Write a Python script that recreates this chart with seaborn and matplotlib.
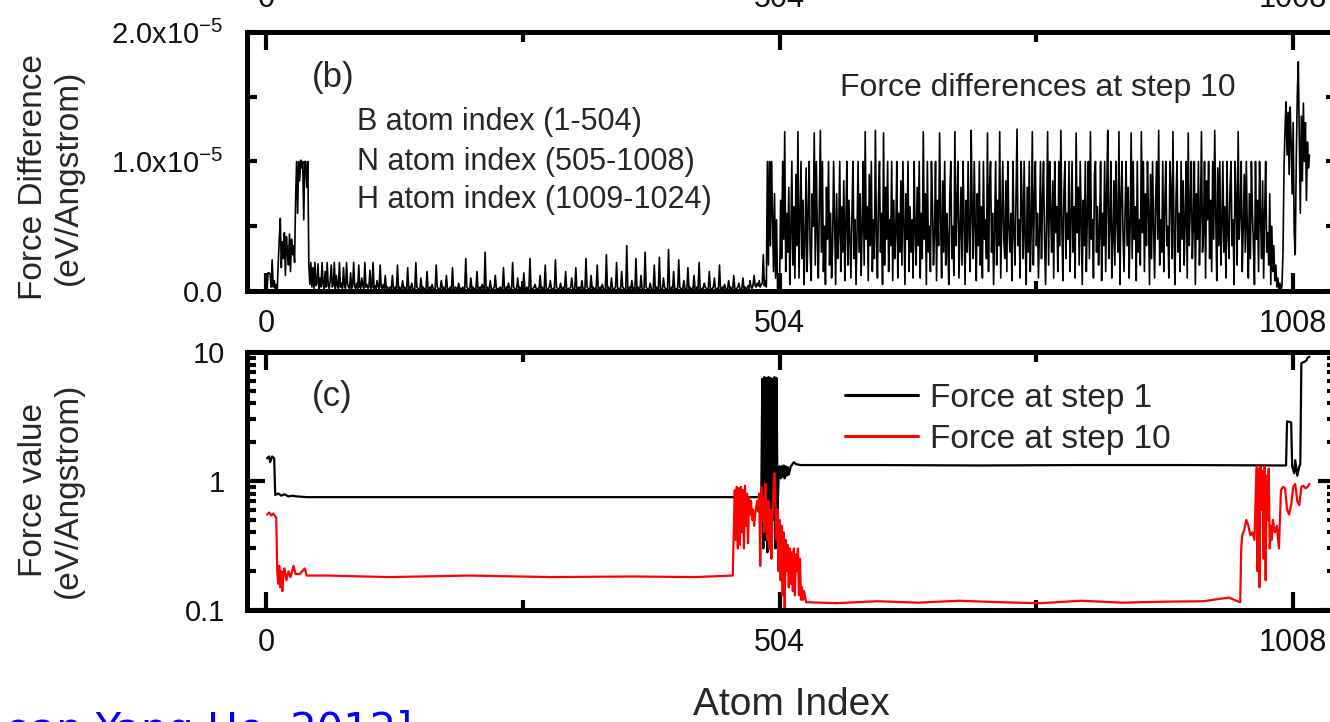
"""
Force difference / force value per atom (BN-H cluster), two stacked panels.
"""

import numpy as np
import matplotlib
matplotlib.use("Agg")
import matplotlib.pyplot as plt
import seaborn as sns
from matplotlib.ticker import FixedLocator, FuncFormatter, LogLocator, NullFormatter

# ---- panel (b): force difference at step 10, units of 1e-7 eV/Angstrom ----
diff_b_head_start = 1
diff_b_head = [
    2, 14, 14, 13, 3, 24, 3, 8, 2, 5, 1,
    22, 40, 56, 18, 38, 25, 45, 12, 42, 30, 20, 44, 15, 40, 28, 35, 22,
    70, 100, 60, 100, 85, 101, 95, 100, 55, 100, 100, 80, 100,
]

diff_b_tail_start = 42
diff_b_tail = [
    20, 5, 22, 3, 18, 2, 22, 4, 6, 21, 2, 10, 3, 22, 5, 2, 15, 3, 22, 4, 2, 8, 20, 3, 5, 22, 2, 12, 4, 2,
    22, 3, 6, 2, 18, 4, 2, 22, 5, 3, 2, 14, 2, 4, 22, 3, 2, 6, 2, 20, 3, 2, 10, 4, 2, 22, 3, 5, 2, 3,
    16, 2, 3, 22, 2, 4, 2, 8, 3, 2, 20, 3, 2, 5, 2, 12, 2, 3, 2,
    2, 3, 2, 12, 2, 1, 3, 2, 20, 2, 3, 1, 2, 8, 2, 3, 2, 1, 18, 2, 3, 2, 6, 2, 1, 2, 22, 3, 2, 1, 2, 10, 2, 3, 2, 1, 2,
    15, 2, 1, 3, 2, 5, 2, 1, 2, 20, 3, 2, 1, 2, 8, 2, 3, 1, 2, 12, 2, 1, 2, 3, 2, 18, 1, 2, 3, 2, 1, 6, 2, 2, 1, 3, 2,
    2, 25, 3, 2, 1, 2, 10, 2, 3, 1, 2, 2, 15, 2, 1, 3, 2, 5, 2, 1, 30, 2, 3, 1, 2, 8, 2, 1, 2, 3, 12, 2, 1, 2, 2, 3, 1,
    2, 18, 2, 1, 3, 2, 6, 2, 1, 2, 22, 3, 2, 1, 2, 10, 2, 3, 1, 2, 2, 14, 2, 1, 3, 2, 2, 25, 2, 1, 2, 3, 5, 2, 1, 2, 2,
    12, 2, 3, 1, 2, 20, 2, 1, 2, 3, 8, 2, 1, 2, 2, 24, 3, 2, 1, 2, 6, 2, 1, 3, 2, 15, 2, 1, 2, 2, 3, 10, 2, 1, 2, 18, 2,
    1, 3, 2, 2, 8, 2, 1, 2, 25, 3, 2, 1, 2, 12, 2, 3, 1, 2, 2, 20, 2, 1, 3, 2, 5, 2, 1, 2, 28, 2, 3, 1, 2, 10, 2, 1, 2,
    3, 22, 2, 1, 2, 2, 15, 3, 2, 1, 2, 35, 2, 1, 3, 2, 8, 2, 2, 1, 25, 2, 3, 1, 2, 12, 2, 1, 2, 30, 3, 2, 1, 2, 6, 2, 1,
    2, 20, 2, 3, 1, 2, 26, 2, 1, 2, 10, 3, 2, 1, 2, 32, 2, 1, 3, 2, 15, 2, 1, 2, 2, 24, 3, 2, 1, 2, 8, 2, 1, 2, 18, 2, 3,
    1, 2, 2, 12, 2, 1, 3, 2, 22, 2, 1, 2, 2, 6, 3, 2, 1, 2, 15, 2, 1, 2, 3, 10, 2, 1, 2, 2, 20, 2, 1, 3, 2, 5, 2, 1, 2,
    8, 2, 3, 1, 2, 12, 2, 1, 2, 3, 6, 2, 1, 2, 10, 2, 3, 1, 2, 4, 2, 8, 3, 2, 5, 12, 4, 3, 6, 4, 8, 3, 5, 6, 28, 4, 8,
]

diff_n_start = 491
diff_n = [
    3, 100, 20, 100, 35, 100, 60, 15, 75, 10, 55, 2, 8, 4, 70, 25, 100, 40, 123, 15, 60, 30, 80, 5, 45, 100, 20, 65, 10, 90,
    35, 123, 10, 55, 100, 25, 70, 5, 40, 95, 15, 60, 100, 30, 8, 75, 50, 122, 20, 100, 45, 10, 65, 124, 30, 100, 15, 50, 5, 80,
    40, 100, 20, 60, 10, 35, 100, 55, 5, 75, 25, 45, 100, 15, 65, 30, 85, 8, 50, 100, 20, 70, 40, 10, 60, 100, 25, 55, 5, 45,
    100, 30, 75, 12, 50, 100, 20, 123, 40, 65, 8, 90, 35, 100, 15, 55, 25, 124, 45, 10, 70, 100, 30, 60, 5, 122, 20, 80, 40, 100,
    15, 55, 35, 100, 8, 70, 25, 45, 100, 10, 60, 30, 85, 20, 100, 50, 5, 75, 40, 100, 15, 65, 30, 55, 10, 100, 45, 20, 80, 35,
    100, 10, 60, 25, 123, 40, 75, 5, 100, 30, 50, 15, 100, 65, 20, 45, 100, 8, 70, 35, 122, 55, 10, 85, 30, 100, 20, 60, 40, 5,
    75, 100, 25, 50, 12, 123, 35, 65, 100, 10, 45, 80, 20, 100, 55, 5, 70, 30, 100, 40, 15, 124, 60, 25, 100, 50, 8, 75, 35, 100,
    20, 65, 10, 100, 40, 55, 25, 122, 15, 80, 100, 30, 60, 5, 45, 100, 20, 70, 35, 123, 10, 55, 100, 40, 25, 85, 15, 100, 50, 30,
    60, 8, 100, 45, 20, 75, 125, 35, 55, 10, 100, 65, 25, 100, 40, 5, 80, 30, 100, 15, 50, 123, 20, 70, 100, 35, 60, 10, 45, 100,
    25, 70, 100, 40, 5, 55, 123, 20, 100, 60, 30, 85, 10, 100, 45, 65, 15, 100, 35, 124, 50, 8, 75, 100, 25, 60, 40, 100, 15, 55,
    100, 30, 65, 10, 122, 45, 80, 20, 100, 50, 5, 70, 35, 100, 15, 60, 100, 25, 123, 40, 55, 10, 90, 100, 30, 65, 20, 45, 100, 8,
    60, 35, 100, 15, 75, 124, 25, 50, 100, 10, 40, 85, 20, 100, 55, 30, 123, 5, 70, 100, 45, 15, 60, 100, 35, 80, 10, 50, 122, 25,
    100, 40, 65, 8, 100, 30, 55, 20, 123, 45, 100, 15, 75, 35, 100, 60, 5, 90, 25, 100, 50, 10, 70, 100, 40, 124, 20, 55, 30, 100,
    15, 65, 100, 35, 50, 10, 100, 80, 25, 123, 45, 5, 70, 100, 30, 60, 15, 100, 40, 85, 20, 55, 100, 10, 122, 35, 65, 100, 25, 50,
    100, 5, 75, 40, 100, 20, 60, 123, 30, 45, 100, 10, 85, 55, 100, 25, 70, 15, 100, 40, 124, 60, 8, 95, 35, 100, 20, 50, 100, 30,
    65, 10, 100, 45, 25, 80, 100, 35, 55, 5, 100, 70, 20, 123, 40, 60, 100, 15, 50, 90, 30, 100, 45, 10, 75, 25, 100, 60, 35, 5,
    100, 40, 70, 15, 100, 55, 25, 85, 10, 60, 100, 30, 45, 20, 75, 5, 50, 15, 35, 8, 20, 3, 10, 2, 6, 1, 4,
]

diff_h_start = 998
diff_h = [30, 95, 125, 146, 105, 138, 90, 142, 115, 75, 130, 45, 28, 100, 150, 177,
          120, 60, 135, 85, 145, 100, 130, 70, 115, 95, 105]

# ---- panel (c): force values (eV/Angstrom), atom index -> value ----
step1_atom = [1, 3, 4, 6, 8, 9, 12, 15, 18, 22, 26, 30, 40, 120, 250, 380, 485,
              486, 487, 488, 489, 490, 491, 492, 493, 494, 495, 496, 497, 498, 499, 500, 501, 502,
              503, 504, 505, 506, 507, 508, 509, 510, 511, 512, 513, 515, 518, 520, 525,
              600, 700, 800, 900, 1001, 1002, 1006, 1007, 1009, 1010, 1012, 1014, 1015,
              1016, 1019, 1021, 1022, 1024]
step1_force = [1.5, 1.55, 1.4, 1.55, 1.5, 0.78, 0.8, 0.77, 0.79, 0.76, 0.77, 0.76, 0.75, 0.75, 0.75, 0.75, 0.75,
               0.7, 6.2, 0.3, 6.4, 0.35, 6.3, 0.28, 6.4, 0.4, 6.3, 0.3, 6.2, 0.5, 6.4, 0.3, 6.3, 0.6,
               1.05, 1.3, 1.05, 1.3, 1.08, 1.32, 1.05, 1.3, 1.1, 1.28, 1.12, 1.3, 1.4, 1.35, 1.33,
               1.33, 1.32, 1.33, 1.33, 1.32, 2.9, 2.85, 1.3, 1.15, 1.45, 1.1, 1.3, 1.35,
               8.2, 8.4, 8.6, 9.0, 9.2]

step10_atom = [1, 3, 5, 7, 10, 11, 12, 13, 14, 15, 16, 17, 18, 20, 22, 24, 27, 29, 33, 38, 40, 60,
               120, 200, 280, 360, 420, 458,
               460, 461, 462, 463, 464, 465, 466, 467, 468, 469, 470, 471, 472, 473, 474, 475, 476, 477,
               478, 479, 480, 481, 482, 483, 484, 485, 486, 487, 488, 489, 490, 491, 492, 493, 494, 495,
               496, 497, 498, 499, 500, 501, 502, 503, 504, 505, 506, 507, 508, 509, 510, 511, 512, 513,
               514, 515, 516, 517, 518, 519, 520, 521, 522, 523, 524, 525, 526, 527, 528, 530,
               560, 600, 640, 680, 720, 760, 800, 840, 880, 920, 945, 952, 956,
               957, 958, 960, 962, 964, 966, 968, 970, 972, 973, 974, 975, 976, 977, 978, 979, 980,
               981, 982, 983, 984, 985, 986, 987, 988, 990, 992, 994, 996, 998, 1000, 1002, 1004,
               1006, 1008, 1010, 1012, 1014, 1016, 1018, 1020, 1022, 1024]
step10_force = [0.55, 0.57, 0.54, 0.56, 0.52, 0.2, 0.16, 0.22, 0.15, 0.2, 0.14, 0.19, 0.21, 0.17, 0.2, 0.18, 0.22, 0.19, 0.19, 0.21, 0.185, 0.185,
                0.18, 0.185, 0.18, 0.182, 0.18, 0.185,
                0.85, 0.35, 0.9, 0.3, 0.88, 0.32, 0.9, 0.4, 0.85, 0.3, 0.92, 0.45, 0.8, 0.33, 0.75, 0.55, 0.7, 0.5,
                0.6, 0.45, 0.55, 0.62, 0.7, 0.58, 0.8, 0.22, 0.9, 0.5, 0.75, 0.4, 0.95, 0.55, 0.35, 0.7, 0.3, 0.6,
                0.25, 0.5, 0.85, 1.15, 0.7, 0.35, 0.6, 0.2, 0.5, 0.17, 0.45, 0.13, 0.4, 0.1, 0.35, 0.2, 0.32, 0.15,
                0.3, 0.16, 0.28, 0.14, 0.3, 0.13, 0.27, 0.2, 0.3, 0.13, 0.25, 0.12, 0.15, 0.12, 0.14, 0.115,
                0.113, 0.117, 0.114, 0.118, 0.115, 0.113, 0.118, 0.114, 0.116, 0.117, 0.125, 0.118, 0.115,
                0.3, 0.38, 0.42, 0.5, 0.45, 0.38, 0.4, 0.35, 1.3, 0.2, 1.25, 0.15, 1.3, 0.6, 1.2, 0.25, 1.3,
                0.17, 1.1, 0.5, 1.25, 0.3, 0.45, 0.35, 0.5, 0.4, 0.45, 0.3, 0.85, 0.9, 0.88, 0.6, 0.55,
                0.65, 0.9, 0.95, 0.7, 0.65, 0.9, 0.92, 0.88, 0.9, 0.95]

x_ticks = [0, 504, 1008]
x_minor = [252, 756]

# ---- styling ----
sns.set_style("ticks")
plt.rcParams["font.family"] = ["Liberation Sans", "DejaVu Sans"]
plt.rcParams["mathtext.fontset"] = "custom"
plt.rcParams["mathtext.rm"] = "Liberation Sans"
plt.rcParams["mathtext.default"] = "regular"
plt.rcParams["axes.unicode_minus"] = False


def style_axes(ax, y_major_len, y_minor_len, y_pad):
    for spine in ax.spines.values():
        spine.set_visible(True)
        spine.set_linewidth(3.6)
        spine.set_color("black")
    ax.tick_params(which="both", direction="in", top=True, right=True,
                   width=3, color="black", labelcolor="#111111")
    ax.tick_params(axis="x", which="major", length=13, labelsize=22, pad=13)
    ax.tick_params(axis="x", which="minor", length=7)
    ax.tick_params(axis="y", which="major", length=y_major_len, labelsize=21, pad=y_pad)
    ax.tick_params(axis="y", which="minor", length=y_minor_len)
    ax.xaxis.set_major_locator(FixedLocator(x_ticks))
    ax.xaxis.set_minor_locator(FixedLocator(x_minor))
    ax.set_xlim(-18.7, 1050)


fig = plt.figure(figsize=(13.3, 7.22), dpi=100)
ax1 = fig.add_axes([0.1857, 0.597, 0.8188, 0.3587])
ax2 = fig.add_axes([0.1857, 0.1551, 0.8188, 0.3573])

# panel (b)
x_diff = np.concatenate([
    diff_b_head_start + np.arange(len(diff_b_head)),
    diff_b_tail_start + np.arange(len(diff_b_tail)),
    diff_n_start + np.arange(len(diff_n)),
    diff_h_start + np.arange(len(diff_h)),
])
y_diff = np.concatenate([diff_b_head, diff_b_tail, diff_n, diff_h]) * 1e-7
sns.lineplot(x=x_diff, y=y_diff, ax=ax1, color="black", lw=1.2,
             estimator=None, sort=False)

style_axes(ax1, 7, 7, 17)
ax1.set_ylim(0, 2e-5)
ax1.yaxis.set_major_locator(FixedLocator([0, 1e-5, 2e-5]))
ax1.yaxis.set_minor_locator(FixedLocator([0.5e-5, 1.5e-5]))
ax1.yaxis.set_major_formatter(FuncFormatter(
    lambda v, p: "0.0" if v == 0 else "%.1fx10$^{-5}$" % (v / 1e-5)))
ax1.tick_params(axis="x", labeltop=True, labelbottom=True)
ax1.set_xlabel("")
ax1.set_ylabel("Force Difference\n(eV/Angstrom)", fontsize=24,
               linespacing=1.2, va="center")
ax1.yaxis.set_label_coords(-0.18, 0.44)

ax1.text(0.079, 0.826, "(b)", transform=ax1.transAxes, fontsize=25,
         ha="center", va="center")
for label, ypos in [("B atom index (1-504)", 0.652),
                    ("N atom index (505-1008)", 0.498),
                    ("H atom index (1009-1024)", 0.351)]:
    ax1.text(0.101, ypos, label, transform=ax1.transAxes, fontsize=22,
             ha="left", va="center")
ax1.text(0.5445, 0.784, "Force differences at step 10", transform=ax1.transAxes,
         fontsize=23, ha="left", va="center")

# panel (c)
sns.lineplot(x=step1_atom, y=step1_force, ax=ax2, color="black", lw=1.6,
             estimator=None, sort=False, label="Force at step 1")
sns.lineplot(x=step10_atom, y=step10_force, ax=ax2, color="#ff0000", lw=1.6,
             estimator=None, sort=False, label="Force at step 10")

ax2.set_yscale("log")
style_axes(ax2, 13, 6.5, 16)
ax2.set_ylim(0.1, 10)
ax2.yaxis.set_major_locator(FixedLocator([0.1, 1, 10]))
ax2.yaxis.set_minor_locator(LogLocator(base=10, subs=np.arange(2, 10)))
ax2.yaxis.set_minor_formatter(NullFormatter())
ax2.yaxis.set_major_formatter(FuncFormatter(lambda v, p: "%g" % v))
ax2.set_ylabel("Force value\n(eV/Angstrom)", fontsize=24,
               linespacing=1.2, va="center")
ax2.yaxis.set_label_coords(-0.18, 0.465)
ax2.set_xlabel("Atom Index", fontsize=28)
ax2.xaxis.set_label_coords(0.5, -0.30)

ax2.text(0.078, 0.829, "(c)", transform=ax2.transAxes, fontsize=25,
         ha="center", va="center")
leg = ax2.legend(loc="upper left", bbox_to_anchor=(0.549, 0.88), frameon=False,
                 fontsize=24, handlelength=2.2, handletextpad=0.36,
                 labelspacing=0.3, borderpad=0, borderaxespad=0)
for line in leg.get_lines():
    line.set_linewidth(2.2)

# citation fragment, cut by the slide edge
fig.text(412 / 1330, -21 / 722, "ean Yang He, 2012]", ha="right", va="baseline",
         color="#0000ff", fontsize=30, family="DejaVu Sans")

fig.savefig("out.png", dpi=100)
plt.close(fig)
